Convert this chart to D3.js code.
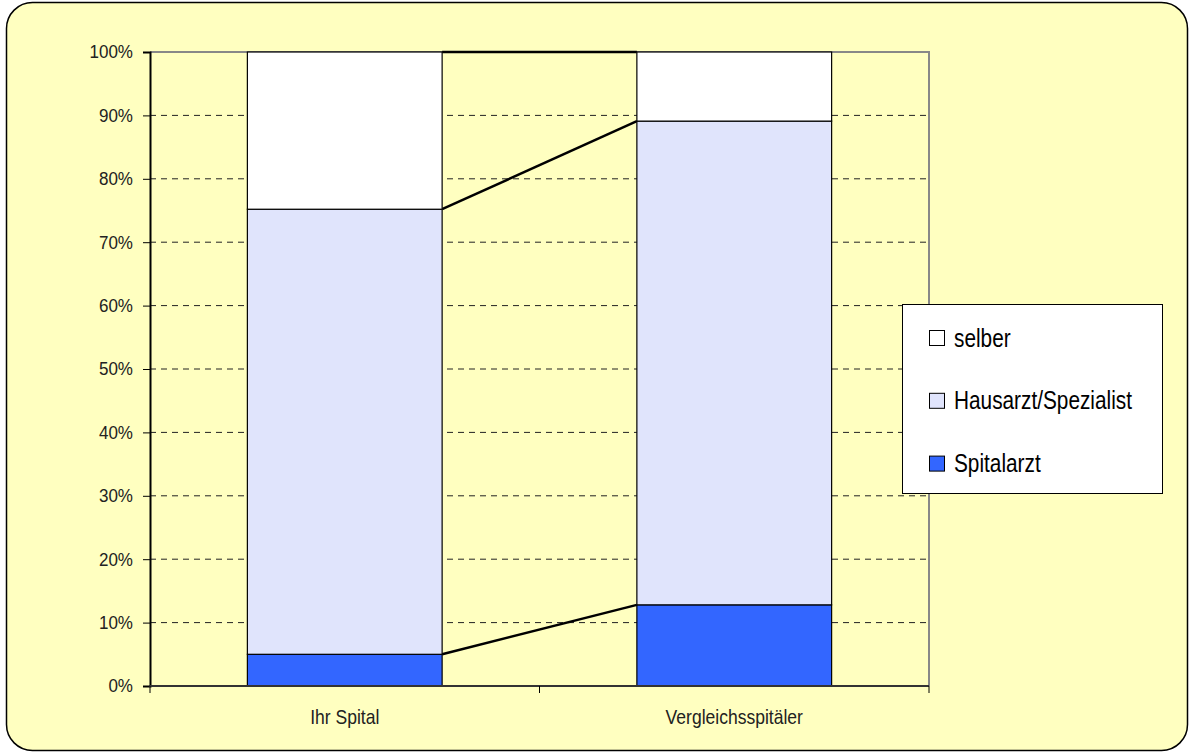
<!DOCTYPE html>
<html><head><meta charset="utf-8">
<script src="https://cdn.jsdelivr.net/npm/d3@7"></script>
<style>body{margin:0;background:#fff;} svg{display:block;}</style>
</head><body>
<svg id="c" width="1191" height="755"></svg>
<script>
const categories = ["Ihr Spital", "Vergleichsspitäler"];
const seriesNames = ["Spitalarzt", "Hausarzt/Spezialist", "selber"];
const spitalarzt = [5.0, 12.8];
const hausarzt = [70.2, 76.3];
const selber = [24.8, 10.9];
const seriesColors = ["#3366FF", "#E0E4FC", "#FFFFFF"];
const yTicks = [0,10,20,30,40,50,60,70,80,90,100];

const font = "'Liberation Sans Narrow','Arial Narrow','Liberation Sans',Arial,sans-serif";
const svg = d3.select("#c");

svg.append("rect").attr("x",6.5).attr("y",2.5).attr("width",1181).attr("height",748)
  .attr("rx",26).attr("ry",26).attr("fill","#FFFFC0").attr("stroke","#000").attr("stroke-width",1.5);

const L=150,R=929,T=52,B=686;
const x = d3.scaleBand().domain(categories).range([L,R]).paddingInner(0.5).paddingOuter(0.25);
const y = d3.scaleLinear().domain([0,100]).range([B,T]);

// grid
svg.append("g").selectAll("line").data(yTicks.filter(t=>t>0&&t<100)).join("line")
  .attr("x1",L).attr("x2",R).attr("y1",d=>y(d)).attr("y2",d=>y(d))
  .attr("stroke","#222").attr("stroke-width",1).attr("stroke-dasharray","6,5");

// plot border top/right
svg.append("path").attr("d",`M${L},${T}H${R}V${B}`).attr("fill","none").attr("stroke","#888").attr("stroke-width",2);

const data = categories.map((c,i)=>({cat:c, Spitalarzt:spitalarzt[i], "Hausarzt/Spezialist":hausarzt[i], selber:selber[i]}));
const stack = d3.stack().keys(seriesNames)(data);

// series lines
const bw = x.bandwidth();
stack.forEach((s,si)=>{
  svg.append("line")
    .attr("x1",x(categories[0])+bw).attr("y1",y(s[0][1]))
    .attr("x2",x(categories[1])).attr("y2",y(s[1][1]))
    .attr("stroke","#000").attr("stroke-width",2.5);
});

stack.forEach((s,si)=>{
  svg.append("g").selectAll("rect").data(s).join("rect")
    .attr("x",d=>x(d.data.cat)).attr("width",bw)
    .attr("y",d=>y(d[1])).attr("height",d=>y(d[0])-y(d[1]))
    .attr("fill",seriesColors[si]).attr("stroke","#000").attr("stroke-width",1.2);
});

// axes
const tsx = 0.92;
const ya = svg.append("g").attr("transform",`translate(${L},0)`)
  .call(d3.axisLeft(y).tickValues(yTicks).tickFormat(d=>d+"%").tickSize(7).tickPadding(10));
ya.select(".domain").attr("stroke","#000").attr("stroke-width",2);
ya.selectAll(".tick line").attr("stroke","#000");
ya.selectAll("text").attr("font-family",font).attr("font-size",18.5).attr("fill","#222")
  .attr("x",-17/tsx).attr("transform",`scale(${tsx},1)`);

const xa = svg.append("g").attr("transform",`translate(0,${B})`);
xa.append("line").attr("x1",L-1).attr("x2",R).attr("y1",0).attr("y2",0).attr("stroke","#333").attr("stroke-width",2);
const xb = [L, (x(categories[0])+bw+x(categories[1]))/2, R];
xa.selectAll(".tk").data(xb).join("line").attr("x1",d=>d).attr("x2",d=>d).attr("y1",0).attr("y2",7).attr("stroke","#000");
const csx = 0.835;
xa.selectAll(".lbl").data(categories).join("text")
  .attr("transform",d=>`translate(${x(d)+bw/2},38) scale(${csx},1)`).attr("text-anchor","middle")
  .attr("font-family",font).attr("font-size",21).attr("fill","#222").text(d=>d);

// legend
const lg = svg.append("g");
lg.append("rect").attr("x",902.5).attr("y",304.5).attr("width",260).attr("height",189).attr("fill","#fff").attr("stroke","#000").attr("stroke-width",1);
const legItems = [2,1,0];
const lsx = 0.8;
legItems.forEach((si,i)=>{
  const cy = 338 + i*62.8;
  lg.append("rect").attr("x",929.5).attr("y",cy-7.5).attr("width",15).attr("height",15)
    .attr("fill",seriesColors[si]).attr("stroke","#000").attr("stroke-width",1);
  lg.append("text").attr("transform",`translate(954,${cy+8.5}) scale(${lsx},1)`)
    .attr("font-family",font).attr("font-size",26).attr("fill","#000").text(seriesNames[si]);
});
</script>
</body></html>
